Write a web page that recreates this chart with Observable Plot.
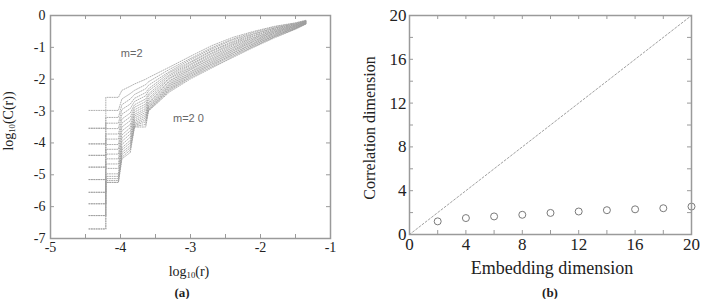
<!DOCTYPE html>
<html>
<head>
<meta charset="utf-8">
<script src="https://cdn.jsdelivr.net/npm/d3@7"></script>
<script src="https://cdn.jsdelivr.net/npm/@observablehq/plot@0.6"></script>
<style>
  html, body { margin: 0; padding: 0; background: #fff; }
  #wrap { position: relative; width: 701px; height: 299px; overflow: hidden; font-family: "Liberation Serif", "Times New Roman", serif; color: #222; }
  .panel { position: absolute; top: 0; }
  #pa svg g[aria-label$="tick label"] text { font-family: "Liberation Serif", serif !important; font-size: 14px !important; fill: #222 !important; }
  #pb svg g[aria-label$="tick label"] text { font-family: "Liberation Serif", serif !important; font-size: 17px !important; fill: #222 !important; }
  .lbl { position: absolute; white-space: nowrap; transform: translate(-50%, -50%); line-height: 1; }
  .rot { transform: translate(-50%, -50%) rotate(-90deg); }
  sub { font-size: 0.62em; vertical-align: -0.25em; }
</style>
</head>
<body>
<div id="wrap">
  <div id="pa" class="panel" style="left:0px"></div>
  <div id="pb" class="panel" style="left:360px"></div>
  <div class="lbl rot" style="left:9px; top:121px; font-size:14px;">log<sub>10</sub>(C(r))</div>
  <div class="lbl" style="left:189px; top:272px; font-size:14px;">log<sub>10</sub>(r)</div>
  <div class="lbl" style="left:182px; top:292px; font-size:13px; font-weight:bold;">(a)</div>
  <div class="lbl rot" style="left:370px; top:128px; font-size:16px;">Correlation dimension</div>
  <div class="lbl" style="left:552px; top:268px; font-size:18px;">Embedding dimension</div>
  <div class="lbl" style="left:550px; top:292px; font-size:13px; font-weight:bold;">(b)</div>
</div>
<script>
// ---------- Panel (a): correlation integrals, m = 2 .. 20 ----------
const mValues = [2,3,4,5,6,7,8,9,10,11,12,13,14,15,16,17,18,19,20];
// r positions (log10 r) where the stair-steps at small r change level
const stepR = [-4.45, -4.21, -4.03];
const level0 = [-2.98,-3.54,-3.54,-4.03,-4.03,-4.39,-4.39,-4.76,-4.76,-5.15,-5.15,-5.55,-5.55,-5.91,-5.91,-6.28,-6.28,-6.70,-6.70];
const level1 = [-2.57,-2.98,-3.20,-3.38,-3.55,-3.72,-3.88,-4.05,-4.20,-4.35,-4.50,-4.66,-4.80,-4.97,-5.05,-5.12,-5.18,-5.24,-5.24];
// rising part between the steps and the smooth tail
const riseR = [-3.98, -3.86, -3.80, -3.64, -3.60];
const riseC = [
  [-2.35,-2.62,-2.80,-2.95,-3.10,-3.25,-3.38,-3.50,-3.62,-3.75,-3.85,-3.95,-4.05,-4.15,-4.22,-4.30,-4.37,-4.45,-4.50],
  [-2.22,-2.45,-2.62,-2.78,-2.92,-3.06,-3.18,-3.30,-3.42,-3.52,-3.62,-3.72,-3.82,-3.92,-4.00,-4.08,-4.15,-4.22,-4.30],
  [-2.15,-2.35,-2.48,-2.60,-2.70,-2.80,-2.88,-2.96,-3.03,-3.10,-3.16,-3.22,-3.28,-3.33,-3.38,-3.42,-3.45,-3.48,-3.50],
  [-2.00,-2.17,-2.30,-2.42,-2.52,-2.62,-2.70,-2.78,-2.85,-2.92,-2.98,-3.04,-3.10,-3.16,-3.22,-3.28,-3.34,-3.42,-3.50],
  [-1.95,-2.08,-2.19,-2.30,-2.37,-2.46,-2.52,-2.60,-2.65,-2.72,-2.76,-2.81,-2.84,-2.88,-2.90,-2.94,-2.96,-2.98,-3.00]
];
// smooth part of the curves
const smoothR = [-3.3, -3.0, -2.7, -2.4, -2.1, -1.8, -1.5, -1.35];
const smoothC = [
  [-1.62,-1.69,-1.76,-1.80,-1.86,-1.90,-1.96,-1.99,-2.05,-2.08,-2.13,-2.16,-2.20,-2.23,-2.27,-2.30,-2.33,-2.36,-2.40],
  [-1.28,-1.35,-1.39,-1.45,-1.48,-1.53,-1.56,-1.61,-1.64,-1.68,-1.71,-1.76,-1.79,-1.83,-1.85,-1.89,-1.92,-1.95,-1.99],
  [-0.95,-1.01,-1.05,-1.10,-1.13,-1.18,-1.21,-1.26,-1.29,-1.34,-1.37,-1.41,-1.45,-1.48,-1.52,-1.55,-1.58,-1.62,-1.65],
  [-0.69,-0.74,-0.77,-0.82,-0.85,-0.89,-0.92,-0.96,-1.00,-1.03,-1.07,-1.10,-1.13,-1.17,-1.19,-1.23,-1.25,-1.29,-1.32],
  [-0.50,-0.53,-0.57,-0.59,-0.63,-0.65,-0.69,-0.71,-0.74,-0.77,-0.80,-0.82,-0.85,-0.88,-0.90,-0.93,-0.95,-0.98,-1.00],
  [-0.34,-0.36,-0.39,-0.40,-0.43,-0.44,-0.47,-0.48,-0.51,-0.52,-0.55,-0.56,-0.59,-0.60,-0.63,-0.64,-0.66,-0.68,-0.70],
  [-0.23,-0.24,-0.26,-0.26,-0.28,-0.29,-0.30,-0.31,-0.33,-0.33,-0.35,-0.35,-0.37,-0.38,-0.39,-0.40,-0.41,-0.42,-0.43],
  [-0.15,-0.16,-0.17,-0.17,-0.18,-0.19,-0.19,-0.20,-0.21,-0.21,-0.22,-0.23,-0.23,-0.24,-0.25,-0.25,-0.26,-0.26,-0.27]
];
const aXTicks = [-5,-4.5,-4,-3.5,-3,-2.5,-2,-1.5,-1];
const aXLabels = [-5,-4,-3,-2,-1];
const aYTicks = [-7,-6,-5,-4,-3,-2,-1,0];
const annText = ["m=2", "m=2 0"];
const annR = [-3.84, -3.03];
const annC = [-1.19, -3.24];

// ---------- Panel (b): correlation dimension vs embedding dimension ----------
const embeddingDim = [2,4,6,8,10,12,14,16,18,20];
const correlationDim = [1.2,1.5,1.65,1.8,1.97,2.1,2.22,2.3,2.4,2.55];
const diagonal = [0, 20];
const bTicks = [0,2,4,6,8,10,12,14,16,18,20];
const bLabels = [0,4,8,12,16,20];

// build the point table for panel (a)
const levels = [level0, level1];
const curvePoints = [];
mValues.forEach((m, k) => {
  levels.forEach((lv, i) => {
    curvePoints.push({m, r: stepR[i], c: lv[k]});
    curvePoints.push({m, r: stepR[i + 1], c: lv[k]});
  });
  riseR.forEach((r, j) => curvePoints.push({m, r, c: riseC[j][k]}));
  smoothR.forEach((r, j) => curvePoints.push({m, r, c: smoothC[j][k]}));
});

const serif = "Liberation Serif";
const frameColor = "#9a9a9a";
const fmt = d => String(d);

const A_W = 350, A_H = 299, A_ML = 50, A_MR = 20, A_MT = 15, A_MB = 61;
const aInnerW = A_W - A_ML - A_MR, aInnerH = A_H - A_MT - A_MB;
const tk = 4;

const plotA = Plot.plot({
  width: A_W, height: A_H,
  marginLeft: A_ML, marginRight: A_MR, marginTop: A_MT, marginBottom: A_MB,
  x: {domain: [-5, -1]},
  y: {domain: [-7, 0]},
  style: {fontFamily: serif, fontSize: "14px", color: "#222", background: "transparent", overflow: "visible"},
  marks: [
    Plot.line(curvePoints, {x: "r", y: "c", z: "m", stroke: "#9c9c9c", strokeWidth: 0.8, strokeDasharray: "1,1.4"}),
    Plot.tickX(aXTicks, {x: d => d, insetTop: aInnerH - tk, stroke: frameColor}),
    Plot.tickX(aXTicks, {x: d => d, insetBottom: aInnerH - tk, stroke: frameColor}),
    Plot.tickY(aYTicks, {y: d => d, insetRight: aInnerW - tk, stroke: frameColor}),
    Plot.tickY(aYTicks, {y: d => d, insetLeft: aInnerW - tk, stroke: frameColor}),
    Plot.axisX({ticks: aXLabels, tickSize: 0, tickPadding: 4, tickFormat: fmt, label: null, fontSize: 14}),
    Plot.axisY({ticks: aYTicks, tickSize: 0, tickPadding: 5, tickFormat: fmt, label: null, fontSize: 14}),
    Plot.frame({stroke: frameColor, strokeWidth: 1.5}),
    Plot.text(annText, {x: (d, i) => annR[i], y: (d, i) => annC[i], text: d => d,
      fontFamily: "Liberation Sans", fontSize: 11, fill: "#666"})
  ]
});
document.getElementById("pa").appendChild(plotA);

const B_W = 341, B_H = 299, B_ML = 49, B_MR = 10, B_MT = 15, B_MB = 65;
const bInnerW = B_W - B_ML - B_MR, bInnerH = B_H - B_MT - B_MB;

const plotB = Plot.plot({
  width: B_W, height: B_H,
  marginLeft: B_ML, marginRight: B_MR, marginTop: B_MT, marginBottom: B_MB,
  x: {domain: [0, 20]},
  y: {domain: [0, 20]},
  style: {fontFamily: serif, fontSize: "17px", color: "#222", background: "transparent", overflow: "visible"},
  marks: [
    Plot.line(diagonal, {x: d => d, y: d => d, stroke: "#a0a0a0", strokeWidth: 1, strokeDasharray: "2,2"}),
    Plot.dot(embeddingDim, {x: d => d, y: (d, i) => correlationDim[i], r: 3.5, stroke: "#7a7a7a", strokeWidth: 1, fill: "none"}),
    Plot.tickX(bTicks, {x: d => d, insetTop: bInnerH - tk, stroke: frameColor}),
    Plot.tickX(bTicks, {x: d => d, insetBottom: bInnerH - tk, stroke: frameColor}),
    Plot.tickY(bTicks, {y: d => d, insetRight: bInnerW - tk, stroke: frameColor}),
    Plot.tickY(bTicks, {y: d => d, insetLeft: bInnerW - tk, stroke: frameColor}),
    Plot.axisX({ticks: bLabels, tickSize: 0, tickPadding: 3, tickFormat: fmt, label: null, fontSize: 17}),
    Plot.axisY({ticks: bLabels, tickSize: 0, tickPadding: 3, tickFormat: fmt, label: null, fontSize: 17}),
    Plot.frame({stroke: frameColor, strokeWidth: 1.5})
  ]
});
document.getElementById("pb").appendChild(plotB);
</script>
</body>
</html>
